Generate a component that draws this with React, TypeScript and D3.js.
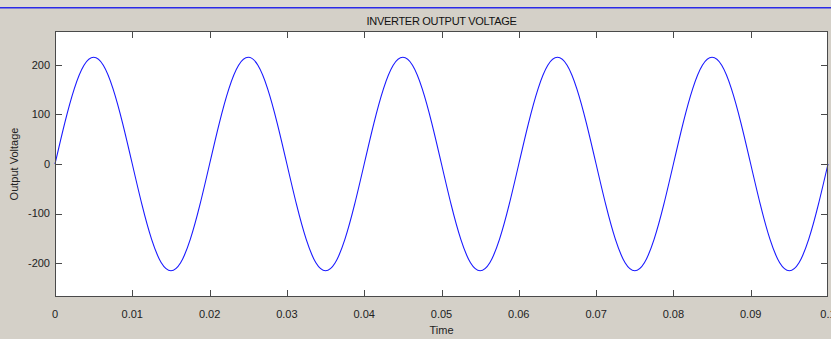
import { useRef, useEffect } from "react"
import * as d3 from "d3"

// time samples (s), one every 1.25 ms
const timeStep = 0.00125
// output voltage at each sample
const voltage = [
  0, 82, 152, 199, 215, 199, 152, 82, 0, -82, -152, -199, -215, -199, -152, -82,
  0, 82, 152, 199, 215, 199, 152, 82, 0, -82, -152, -199, -215, -199, -152, -82,
  0, 82, 152, 199, 215, 199, 152, 82, 0, -82, -152, -199, -215, -199, -152, -82,
  0, 82, 152, 199, 215, 199, 152, 82, 0, -82, -152, -199, -215, -199, -152, -82,
  0, 82, 152, 199, 215, 199, 152, 82, 0, -82, -152, -199, -215, -199, -152, -82,
  0,
]
const xTicks = [0, 0.01, 0.02, 0.03, 0.04, 0.05, 0.06, 0.07, 0.08, 0.09, 0.1]
const xTickLabels = ["0", "0.01", "0.02", "0.03", "0.04", "0.05", "0.06", "0.07", "0.08", "0.09", "0.1"]
const yTicks = [-200, -100, 0, 100, 200]

const title = "INVERTER OUTPUT VOLTAGE"
const xLabel = "Time"
const yLabel = "Output Voltage"

export default function App() {
  const svgRef = useRef<SVGSVGElement | null>(null)

  useEffect(() => {
    if (!svgRef.current) return
    const svg = d3.select(svgRef.current)
    svg.selectAll("*").remove()

    const width = 831
    const height = 339
    const left = 55
    const right = 828
    const top = 31
    const bottom = 297
    const font = "'Liberation Sans', Arial, sans-serif"

    // window background
    svg.append("rect").attr("width", width).attr("height", height).attr("fill", "#d4d0c8")
    svg.append("rect").attr("width", width).attr("height", 7).attr("fill", "#dcd9d2")
    svg.append("rect").attr("x", 0).attr("y", 7).attr("width", width).attr("height", 1.5).attr("fill", "#2a2ae8")

    const x = d3.scaleLinear().domain([0, 0.1]).range([left, right])
    const y = d3.scaleLinear().domain([-268, 268]).range([bottom, top])

    // plot area
    svg
      .append("rect")
      .attr("x", left)
      .attr("y", top)
      .attr("width", right - left)
      .attr("height", bottom - top)
      .attr("fill", "white")

    // curve
    const line = d3
      .line<number>()
      .x((_, i) => x(i * timeStep))
      .y((d) => y(d))
      .curve(d3.curveNatural)

    svg
      .append("path")
      .datum(voltage)
      .attr("d", line)
      .attr("fill", "none")
      .attr("stroke", "#1a1aff")
      .attr("stroke-width", 1.1)

    // box
    const axisColor = "#4a4a4a"
    svg
      .append("rect")
      .attr("x", left + 0.5)
      .attr("y", top + 0.5)
      .attr("width", right - left - 1)
      .attr("height", bottom - top - 1)
      .attr("fill", "none")
      .attr("stroke", axisColor)
      .attr("stroke-width", 1)

    const tickLen = 7

    // x ticks, bottom and top, inward
    xTicks.forEach((t, i) => {
      const px = Math.round(x(t)) + 0.5
      if (i > 0 && i < xTicks.length - 1) {
        svg.append("line").attr("x1", px).attr("x2", px).attr("y1", bottom).attr("y2", bottom - tickLen).attr("stroke", axisColor)
        svg.append("line").attr("x1", px).attr("x2", px).attr("y1", top).attr("y2", top + tickLen).attr("stroke", axisColor)
      }
      svg
        .append("text")
        .attr("x", x(t))
        .attr("y", 318)
        .attr("text-anchor", "middle")
        .style("font-family", font)
        .style("font-size", "11px")
        .style("fill", "#222")
        .text(xTickLabels[i])
    })

    // y ticks, left and right, inward
    yTicks.forEach((t) => {
      const py = Math.round(y(t)) + 0.5
      svg.append("line").attr("x1", left).attr("x2", left + tickLen).attr("y1", py).attr("y2", py).attr("stroke", axisColor)
      svg.append("line").attr("x1", right).attr("x2", right - tickLen).attr("y1", py).attr("y2", py).attr("stroke", axisColor)
      svg
        .append("text")
        .attr("x", left - 5)
        .attr("y", y(t))
        .attr("dy", "0.35em")
        .attr("text-anchor", "end")
        .style("font-family", font)
        .style("font-size", "11px")
        .style("fill", "#222")
        .text(t)
    })

    // labels
    svg
      .append("text")
      .attr("x", (left + right) / 2)
      .attr("y", 25)
      .attr("text-anchor", "middle")
      .style("font-family", font)
      .style("font-size", "11px")
      .style("letter-spacing", "-0.3px")
      .style("fill", "#111")
      .text(title)

    svg
      .append("text")
      .attr("x", (left + right) / 2)
      .attr("y", 334)
      .attr("text-anchor", "middle")
      .style("font-family", font)
      .style("font-size", "11px")
      .style("fill", "#222")
      .text(xLabel)

    svg
      .append("text")
      .attr("transform", `translate(18, ${y(0)}) rotate(-90)`)
      .attr("text-anchor", "middle")
      .style("font-family", font)
      .style("font-size", "11px")
      .style("fill", "#222")
      .text(yLabel)
  }, [])

  return (
    <div style={{ position: "fixed", left: 0, top: 0 }}>
      <svg ref={svgRef} width={831} height={339} style={{ display: "block" }}></svg>
    </div>
  )
}
